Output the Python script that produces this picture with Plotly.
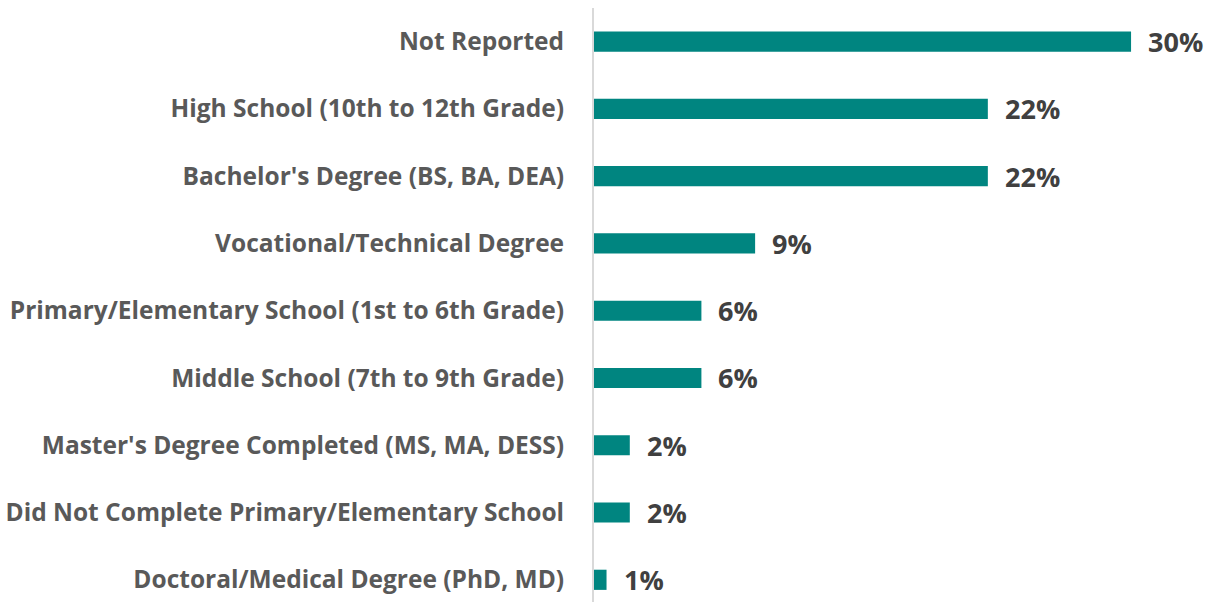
import plotly.graph_objects as go

categories = [
    "Not Reported",
    "High School (10th to 12th Grade)",
    "Bachelor's Degree (BS, BA, DEA)",
    "Vocational/Technical Degree",
    "Primary/Elementary School (1st to 6th Grade)",
    "Middle School (7th to 9th Grade)",
    "Master's Degree Completed (MS, MA, DESS)",
    "Did Not Complete Primary/Elementary School",
    "Doctoral/Medical Degree (PhD, MD)",
]
values = [30.0, 22.0, 22.0, 9.0, 6.0, 6.0, 2.0, 2.0, 0.7]
value_labels = ["30%", "22%", "22%", "9%", "6%", "6%", "2%", "2%", "1%"]

BAR = "#008580"
FONT = "Open Sans"

fig = go.Figure(
    go.Bar(
        x=values,
        y=categories,
        orientation="h",
        marker=dict(color=BAR, line=dict(width=0)),
        width=0.3,
        hoverinfo="skip",
    )
)

for c, v, t in zip(categories, values, value_labels):
    fig.add_annotation(
        x=v, y=c, text=t, showarrow=False, xanchor="left", xshift=15,
        font=dict(family=FONT, size=27, color="#404040", weight="bold"),
    )

fig.update_layout(
    width=1222, height=602,
    margin=dict(l=594, r=0, t=8, b=0),
    paper_bgcolor="white", plot_bgcolor="white",
    showlegend=False,
    bargap=0.7,
    xaxis=dict(range=[0, 35.08], visible=False, fixedrange=True),
    yaxis=dict(
        range=[8.33, -0.5],
        showline=True, linecolor="#d9d9d9", linewidth=2,
        showgrid=False, zeroline=False, ticks="",
        ticklabelstandoff=23,
        tickfont=dict(family=FONT, size=24.5, color="#595959", weight="bold"),
    ),
)

fig.write_html("out.html")
